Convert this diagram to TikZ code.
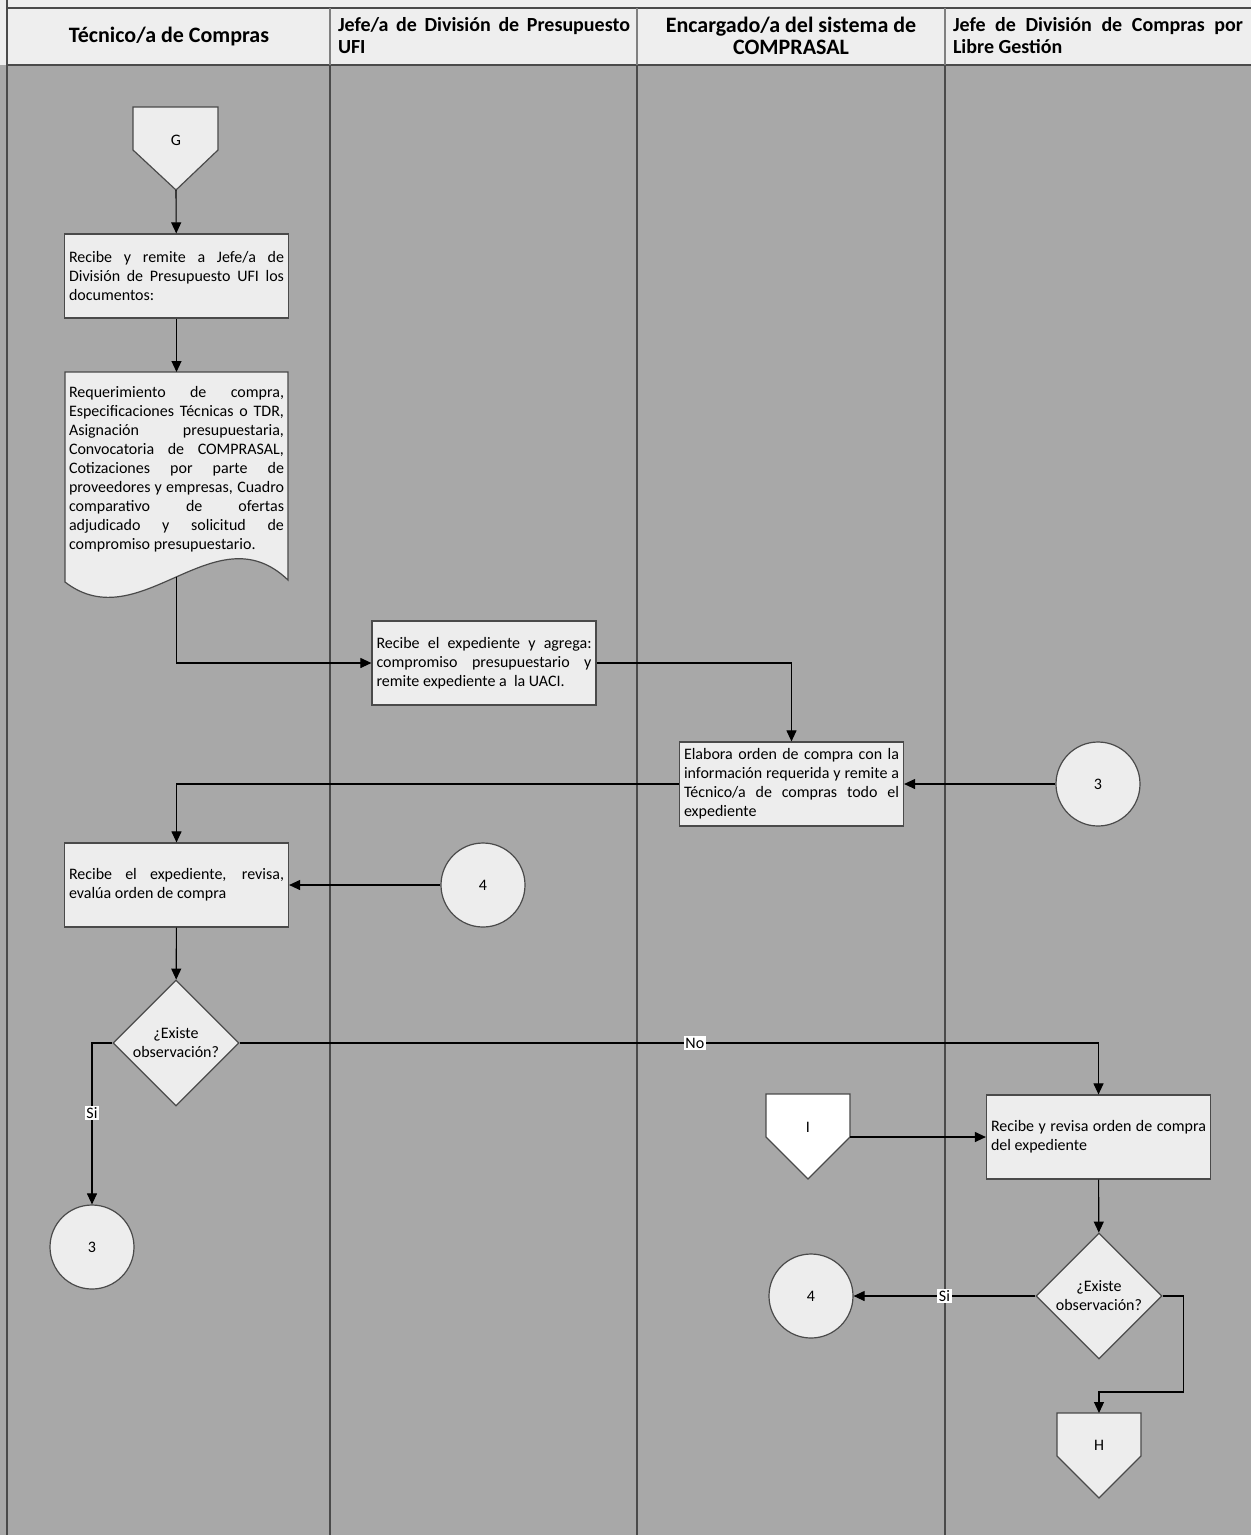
\documentclass[tikz,border=0pt]{standalone}
\usepackage{fontspec}
\setmainfont{Carlito}
\usetikzlibrary{arrows.meta,shapes.geometric,calc}

\definecolor{lanegray}{HTML}{A8A8A8}
\definecolor{headfill}{HTML}{EEEEEE}
\definecolor{boxfill}{HTML}{EDEDED}
\definecolor{edgegray}{HTML}{4A4A4A}

\hyphenpenalty=10000
\exhyphenpenalty=10000
\tolerance=10000

\tikzset{
  proc/.style={draw=edgegray, line width=1.2pt, fill=boxfill, text width=215pt,
    minimum height=84pt, inner xsep=4.5pt, inner ysep=0pt, align=justify,
    font=\fontsize{16}{19}\selectfont},
  conn/.style={circle, draw=edgegray, line width=1.2pt, fill=boxfill,
    minimum size=84pt, inner sep=0pt, font=\fontsize{16}{19}\selectfont},
  dec/.style={diamond, draw=edgegray, line width=1.2pt, fill=boxfill, aspect=1,
    minimum size=126pt, inner sep=0pt, align=center, font=\fontsize{16}{19}\selectfont},
  offpage/.style={draw=edgegray, line width=1.2pt, fill=boxfill},
  plain/.style={font=\fontsize{16}{19}\selectfont},
  flow/.style={draw=black, line width=1.1pt, -{Triangle[length=11pt,width=10pt]}},
  lbl/.style={fill=white, inner sep=1.5pt, font=\fontsize{16}{19}\selectfont},
  lane/.style={draw=edgegray, line width=2pt},
  headbig/.style={font=\fontsize{22}{22}\bfseries\selectfont},
  headsmall/.style={font=\fontsize{20}{22}\bfseries\selectfont},
}

\begin{document}
\begin{tikzpicture}[x=1pt,y=-1pt]
\useasboundingbox (0,0) rectangle (1251,1535);

% lanes and header
\fill[headfill] (0,0) rectangle (1251,65);
\fill[lanegray] (0,65) rectangle (1251,1535);
\draw[lane] (7,0) -- (7,1535);
\draw[lane] (7,8) -- (1251,8);
\draw[lane] (7,65) -- (1251,65);
\draw[lane, draw=gray] (330,8) -- (330,65);
\draw[lane, draw=gray] (637,8) -- (637,65);
\draw[lane, draw=gray] (945,8) -- (945,65);
\draw[lane] (330,66) -- (330,1535);
\draw[lane] (637,66) -- (637,1535);
\draw[lane] (945,66) -- (945,1535);

\node[headbig] (hTec) at (169,37) {Técnico/a de Compras};
\node[headsmall, text width=292pt, align=justify, inner sep=0pt] (hPre) at (484,36)
  {Jefe/a de División de Presupuesto\linebreak UFI};
\node[headbig, align=center, inner sep=0pt] (hSis) at (791,36)
  {Encargado/a del sistema de\\COMPRASAL};
\node[headsmall, text width=290pt, align=justify, inner sep=0pt] (hLib) at (1098,36)
  {Jefe de División de Compras por\linebreak Libre Gestión};

% off-page G
\draw[offpage] (133,107) -- (218,107) -- (218,150) -- (176,190) -- (133,150) -- cycle;
\coordinate (Gtip) at (176,190);
\node[plain] (G) at (176,140) {G};

\node[proc] (recibe) at (176.5,276)
  {Recibe y remite a Jefe/a de\linebreak División de Presupuesto UFI los\linebreak documentos:};

% document
\draw[offpage] (65,372) -- (288,372) -- (288,580) .. controls (215,510) and (140,640) .. (65,582) -- cycle;
\coordinate (docin) at (176.5,372);
\coordinate (docout) at (176.5,577);
\node[plain, text width=215pt, align=justify, inner sep=0pt] (docs) at (176.5,469)
  {Requerimiento de compra,\linebreak Especificaciones Técnicas o TDR,\linebreak
   Asignación presupuestaria,\linebreak Convocatoria de COMPRASAL,\linebreak
   Cotizaciones por parte de\linebreak proveedores y empresas, Cuadro\linebreak
   comparativo de ofertas\linebreak adjudicado y solicitud de\linebreak
   compromiso presupuestario.};

\node[proc] (agrega) at (484,663)
  {Recibe el expediente y agrega:\linebreak compromiso presupuestario y\linebreak remite expediente a\ \ la UACI.};

\node[proc] (elabora) at (791.5,784)
  {Elabora orden de compra con la\linebreak información requerida y remite a\linebreak Técnico/a de compras todo el\linebreak expediente};
\node[conn] (tresR) at (1098,784) {3};

\node[proc] (revisa) at (176.5,885)
  {Recibe el expediente, revisa,\linebreak evalúa orden de compra};
\node[conn] (cuatroM) at (483,885) {4};

\node[dec] (obsA) at (176,1043) {¿Existe\\observación?};
\node[conn] (tresL) at (92,1247) {3};

% off-page I
\draw[offpage, fill=white] (766,1094) -- (850,1094) -- (850,1137) -- (808,1179) -- (766,1137) -- cycle;
\coordinate (Iside) at (850,1137);
\node[plain] (I) at (808,1127) {I};

\node[proc] (orden) at (1098.5,1137)
  {Recibe y revisa orden de compra\linebreak del expediente};
\node[dec] (obsB) at (1099,1296) {¿Existe\\observación?};
\node[conn] (cuatroB) at (811,1296) {4};

% off-page H
\draw[offpage] (1057,1413) -- (1141,1413) -- (1141,1456) -- (1099,1498) -- (1057,1456) -- cycle;
\coordinate (Htop) at (1099,1413);
\coordinate (Hjog) at (1099,1392);
\node[plain] (H) at (1099,1445) {H};

% connectors
\draw[flow] (Gtip) -- (recibe);
\draw[flow] (recibe) -- (docin);
\draw[flow] (docout) |- (agrega.west);
\draw[flow] (agrega.east) -| (elabora.north);
\draw[flow] (tresR) -- (elabora.east);
\draw[flow] (elabora.west) -| (revisa.north);
\draw[flow] (cuatroM) -- (revisa.east);
\draw[flow] (revisa) -- (obsA);
\draw[flow] (obsA.west) -| node[lbl, pos=0.716] (siA) {Si} (tresL.north);
\draw[flow] (obsA.east) -| node[lbl, pos=0.265] (noA) {No} (orden.north);
\draw[flow] (Iside) -- (Iside -| orden.west);
\draw[flow] (orden) -- (obsB);
\draw[flow] (obsB.west) -- node[lbl, pos=0.5] (siB) {Si} (cuatroB.east);
\draw[flow] (obsB.east) -- ++(21,0) |- (Hjog) -- (Htop);
\end{tikzpicture}
\end{document}
